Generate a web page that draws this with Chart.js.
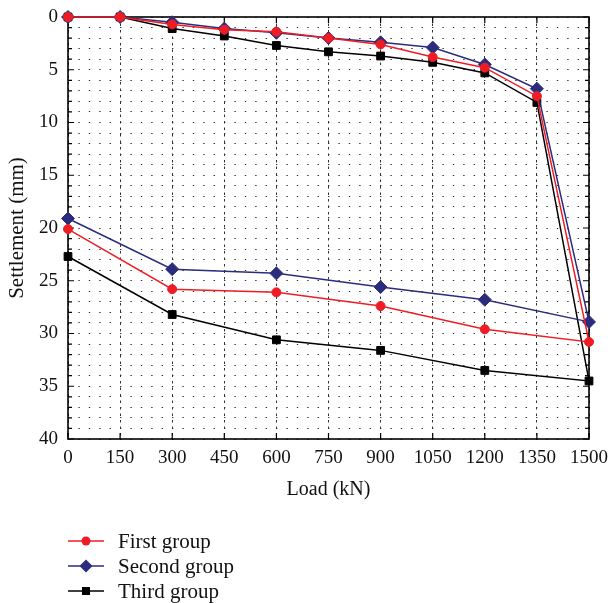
<!DOCTYPE html>
<html>
<head>
<meta charset="utf-8">
<script src="https://cdn.jsdelivr.net/npm/chart.js@4.4.1/dist/chart.umd.min.js"></script>
<style>
  body { margin: 0; background: #fff; }
  #wrap { position: relative; width: 608px; height: 603px; }
  #legend { position: absolute; left: 0; top: 0; width: 608px; height: 603px; pointer-events: none; }
  .row { position: absolute; left: 68px; height: 26px; display: flex; align-items: center;
         font-family: "Liberation Serif", "DejaVu Serif", serif; font-size: 21px; color: #111; }
  .row svg { margin-right: 14px; }
</style>
</head>
<body>
<div id="wrap">
  <canvas id="settle" width="608" height="505"></canvas>
  <div id="legend"></div>
</div>
<script>
// load path: loading up to 1500 kN, then unloading back to 0
const loads = [0, 150, 300, 450, 600, 750, 900, 1050, 1200, 1350, 1500, 1200, 900, 600, 300, 0];
const firstGroup  = [0, 0, 0.7, 1.2, 1.4, 2.0, 2.6, 3.8, 4.8, 7.5, 30.8, 29.6, 27.4, 26.1, 25.8, 20.1];
const secondGroup = [0, 0, 0.5, 1.1, 1.5, 2.0, 2.4, 2.9, 4.5, 6.8, 28.9, 26.8, 25.6, 24.3, 23.9, 19.1];
const thirdGroup  = [0, 0, 1.1, 1.8, 2.7, 3.3, 3.7, 4.3, 5.3, 8.1, 34.5, 33.5, 31.6, 30.6, 28.2, 22.7];
const loadTicks = [0, 150, 300, 450, 600, 750, 900, 1050, 1200, 1350, 1500];
const groupNames = ['First group', 'Second group', 'Third group'];

const serif = '"Liberation Serif", "DejaVu Serif", serif';
const colors = ['#ee1d25', '#2b2d7c', '#000000'];
const styles = ['circle', 'rectRot', 'rect'];
const radii = [4.5, 6.5, 5.5];

const toPoints = (ys) => loads.map((x, i) => ({ x: x, y: ys[i] }));

// box around plot with inward ticks
const frame = {
    id: 'frame',
    beforeDatasetsDraw(chart) {
        const { ctx, chartArea: { left, right, top, bottom } } = chart;
        const xs = chart.scales.x, ys = chart.scales.y;
        ctx.save();
        ctx.strokeStyle = '#000';
        ctx.lineWidth = 1.2;
        ctx.beginPath();
        loadTicks.forEach(v => {
            const px = xs.getPixelForValue(v);
            ctx.moveTo(px, bottom); ctx.lineTo(px, bottom - 6);
            ctx.moveTo(px, top); ctx.lineTo(px, top + 6);
        });
        for (let s = 0; s <= 40; s++) {
            const py = ys.getPixelForValue(s);
            const len = s % 5 === 0 ? 6 : 4;
            ctx.moveTo(left, py); ctx.lineTo(left + len, py);
            ctx.moveTo(right, py); ctx.lineTo(right - len, py);
        }
        ctx.stroke();
        ctx.lineWidth = 1.6;
        ctx.strokeRect(left, top, right - left, bottom - top);
        ctx.restore();
    }
};

new Chart(document.getElementById('settle'), {
    type: 'line',
    data: {
        datasets: [firstGroup, secondGroup, thirdGroup].map((ys, i) => ({
            label: groupNames[i],
            data: toPoints(ys),
            borderColor: colors[i],
            backgroundColor: colors[i],
            borderWidth: 1.5,
            pointStyle: styles[i],
            pointRadius: radii[i],
            pointBorderWidth: 1,
            tension: 0,
            clip: false
        }))
    },
    options: {
        responsive: false,
        animation: false,
        layout: { padding: { top: 17, right: 19, left: 0, bottom: 0 } },
        plugins: { legend: { display: false }, tooltip: { enabled: false } },
        scales: {
            x: {
                type: 'linear',
                min: 0,
                max: 1500,
                afterBuildTicks: (scale) => { scale.ticks = loadTicks.map(v => ({ value: v })); },
                afterFit: (scale) => {
                    scale.height = 66;
                    scale.paddingLeft = 0;
                    scale.paddingRight = 0;
                },
                border: { display: false, dash: [2.5, 4] },
                grid: { color: '#333', lineWidth: 1, drawTicks: false },
                ticks: { color: '#111', padding: 8, maxRotation: 0, font: { family: serif, size: 19 },
                         callback: (v) => String(v) },
                title: { display: true, text: 'Load (kN)', color: '#111', padding: { bottom: 3 },
                         font: { family: serif, size: 20 } }
            },
            y: {
                reverse: true,
                min: 0,
                max: 40,
                afterFit: (scale) => {
                    scale.width = 68;
                    scale.paddingTop = 0;
                    scale.paddingBottom = 0;
                },
                border: { display: false, dash: [1.4, 9] },
                grid: { color: '#333', lineWidth: 1, drawTicks: false },
                ticks: {
                    stepSize: 1,
                    autoSkip: false,
                    color: '#111',
                    padding: 10,
                    font: { family: serif, size: 19 },
                    callback: (v) => (v % 5 === 0 ? String(v) : '')
                },
                title: { display: true, text: 'Settlement (mm)', color: '#111', padding: { top: 5 },
                         font: { family: serif, size: 21 } }
            }
        }
    },
    plugins: [frame]
});

// legend rows
const legend = document.getElementById('legend');
const markerSvg = (i) => {
    const c = colors[i];
    let m;
    if (styles[i] === 'circle') m = `<circle cx="18" cy="7" r="4.5" fill="${c}"/>`;
    else if (styles[i] === 'rectRot') m = `<polygon points="18,0.5 24.5,7 18,13.5 11.5,7" fill="${c}"/>`;
    else m = `<rect x="14" y="3" width="8" height="8" fill="${c}"/>`;
    return `<svg width="36" height="14"><line x1="0" y1="7" x2="36" y2="7" stroke="${c}" stroke-width="1.5"/>${m}</svg>`;
};
groupNames.forEach((name, i) => {
    const row = document.createElement('div');
    row.className = 'row';
    row.style.top = (528 + 25 * i) + 'px';
    row.innerHTML = markerSvg(i) + '<span>' + name + '</span>';
    legend.appendChild(row);
});
</script>
</body>
</html>
